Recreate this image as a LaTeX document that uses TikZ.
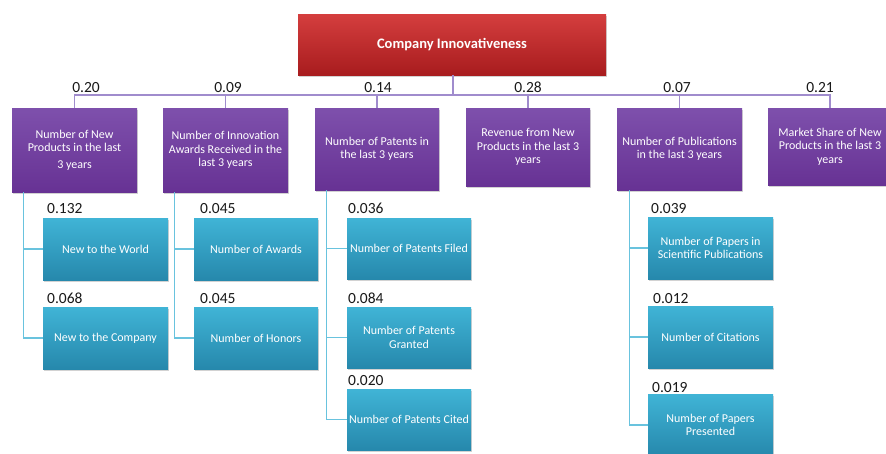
\documentclass[tikz,border=0pt]{standalone}
\usepackage{fontspec}
\setmainfont{Carlito}
\usetikzlibrary{shadows}
\definecolor{rootT}{RGB}{212,62,62}
\definecolor{rootB}{RGB}{168,28,30}
\definecolor{purT}{RGB}{126,80,172}
\definecolor{purB}{RGB}{103,50,148}
\definecolor{bluT}{RGB}{64,180,214}
\definecolor{bluB}{RGB}{38,136,172}
\definecolor{plineC}{RGB}{160,140,205}
\definecolor{blineC}{RGB}{105,195,222}
\definecolor{numC}{RGB}{25,25,25}
\tikzset{
  basebox/.style={rectangle, inner sep=1pt, align=center, text=white,
    drop shadow={shadow xshift=1pt, shadow yshift=-1.5pt, opacity=0.35}},
  rootbox/.style={basebox, top color=rootT, bottom color=rootB,
    font=\fontsize{14.5}{16}\selectfont\bfseries},
  critbox/.style={basebox, top color=purT, bottom color=purB,
    font=\fontsize{12}{13.5}\selectfont},
  subbox/.style={basebox, top color=bluT, bottom color=bluB,
    font=\fontsize{12}{13.5}\selectfont},
  pline/.style={draw=plineC, line width=1.3pt},
  bline/.style={draw=blineC, line width=1.3pt},
  weight/.style={text=numC, font=\fontsize{15.5}{17}\selectfont, inner sep=0pt, anchor=base},
  subweight/.style={weight, anchor=base west},
}
\begin{document}
\begin{tikzpicture}[x=1pt, y=-1pt]
\clip (0,0) rectangle (886,453);
\fill[white] (0,0) rectangle (886,453);

% goal
\node[rootbox, minimum width=308pt, minimum height=61pt] (root) at (452,44.5) {Company Innovativeness};

% criteria
\node[critbox, minimum width=125pt, minimum height=84pt] (p1) at (74.5,150) {Number of New\\Products in the last\\[3pt]3 years};
\node[critbox, minimum width=125pt, minimum height=84pt] (p2) at (225.5,150) {Number of Innovation\\Awards Received in the\\last 3 years};
\node[critbox, minimum width=124pt, minimum height=82pt] (p3) at (377,149) {Number of Patents in\\the last 3 years};
\node[critbox, minimum width=124pt, minimum height=78pt] (p4) at (528,147) {Revenue from New\\Products in the last 3\\years};
\node[critbox, minimum width=125pt, minimum height=82pt] (p5) at (679.5,149) {Number of Publications\\in the last 3 years};
\node[critbox, minimum width=124pt, minimum height=77pt] (p6) at (830,146.5) {Market Share of New\\Products in the last 3\\years};

% sub-criteria
\node[subbox, minimum width=125pt, minimum height=62pt] (b11) at (105.5,249) {New to the World};
\node[subbox, minimum width=125pt, minimum height=62pt] (b12) at (105.5,338) {New to the Company};
\node[subbox, minimum width=124pt, minimum height=62pt] (b21) at (256,249) {Number of Awards};
\node[subbox, minimum width=124pt, minimum height=62pt] (b22) at (256,338) {Number of Honors};
\node[subbox, minimum width=124pt, minimum height=61pt] (b31) at (409,248.5) {Number of Patents Filed};
\node[subbox, minimum width=124pt, minimum height=61pt] (b32) at (409,337.5) {Number of Patents\\Granted};
\node[subbox, minimum width=124pt, minimum height=61pt] (b33) at (409,419.5) {Number of Patents Cited};
\node[subbox, minimum width=125pt, minimum height=62pt] (b51) at (710.5,248) {Number of Papers in\\Scientific Publications};
\node[subbox, minimum width=125pt, minimum height=62pt] (b52) at (710.5,337) {Number of Citations};
\node[subbox, minimum width=125pt, minimum height=62pt] (b53) at (710.5,425) {Number of Papers\\Presented};

% goal to criteria
\coordinate (bus) at (453,95);
\draw[pline] (root.south -| bus) -- (bus);
\foreach \p in {p1,p2,p3,p4,p5,p6} \draw[pline] (bus) -| (\p.north);

% criteria to sub-criteria
\coordinate (t1) at ([xshift=12pt]p1.south west);
\coordinate (t2) at ([xshift=12pt]p2.south west);
\coordinate (t3) at ([xshift=12pt]p3.south west);
\coordinate (t5) at ([xshift=13pt]p5.south west);
\foreach \t/\b in {t1/b11,t1/b12,t2/b21,t2/b22,t3/b31,t3/b32,t3/b33,t5/b51,t5/b52,t5/b53}
  \draw[bline] (\t) |- (\b.west);

% criterion weights
\node[weight] (w1) at (86,92.5) {0.20};
\node[weight] (w2) at (228,92.5) {0.09};
\node[weight] (w3) at (378,92.5) {0.14};
\node[weight] (w4) at (528,92.5) {0.28};
\node[weight] (w5) at (677,92.5) {0.07};
\node[weight] (w6) at (820,92.5) {0.21};

% sub-criterion weights
\node[subweight] (s11) at (47,213) {0.132};
\node[subweight] (s12) at (47,303) {0.068};
\node[subweight] (s21) at (200,213) {0.045};
\node[subweight] (s22) at (200,303) {0.045};
\node[subweight] (s31) at (348,213) {0.036};
\node[subweight] (s32) at (348,303) {0.084};
\node[subweight] (s33) at (348,385) {0.020};
\node[subweight] (s51) at (651,213) {0.039};
\node[subweight] (s52) at (653,303) {0.012};
\node[subweight] (s53) at (652,392) {0.019};
\end{tikzpicture}
\end{document}
